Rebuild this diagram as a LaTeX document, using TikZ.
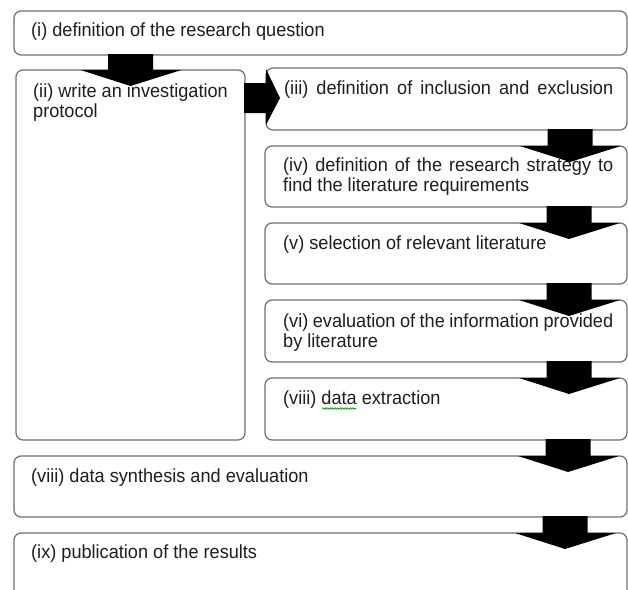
\documentclass[tikz,border=0pt]{standalone}
\usepackage{fontspec}
\setmainfont{Liberation Sans}[FakeStretch=0.955]
\usetikzlibrary{calc,decorations.pathmorphing}
\definecolor{boxgray}{HTML}{6E6E6E}
\definecolor{textgray}{HTML}{1E1E1E}
\newcommand\downblk[3]{%
  \coordinate (cx) at (#3,0);
  \coordinate (s) at (cx |- #1.south);
  \coordinate (t) at (cx |- #2.north);
  \fill[blk] ($(s)+(-22.5,-1)$) -- ($(t)+(-22.5,0)$) -- ($(t)+(-50,0)$) --
    ($(t)+(0,16)$) -- ($(t)+(51,0)$) -- ($(t)+(22.5,0)$) -- ($(s)+(22.5,-1)$) -- cycle;}
\begin{document}
\begin{tikzpicture}[x=1pt,y=-1pt,
  box/.style={draw=boxgray, line width=1.2pt, rounded corners=7pt, fill=white,
    anchor=north west, inner sep=0pt, outer sep=0pt},
  txt/.style={anchor=base west, inner sep=0pt, font=\fontsize{19}{20}\selectfont, text=textgray},
  blk/.style={fill=black, draw=none}]
\useasboundingbox (0,0) rectangle (628,589);
\clip (0,0) rectangle (628,589);
% boxes
\node[box, minimum width=613pt, minimum height=44pt] (bi) at (14,11) {};
\node[box, minimum width=229pt, minimum height=370pt] (bii) at (16,70) {};
\node[box, minimum width=361pt, minimum height=62pt] (biii) at (266,68) {};
\node[box, minimum width=362pt, minimum height=61pt] (biv) at (265,146) {};
\node[box, minimum width=362pt, minimum height=61pt] (bv) at (265,223) {};
\node[box, minimum width=362pt, minimum height=62pt] (bvi) at (265,300) {};
\node[box, minimum width=362pt, minimum height=62pt] (bvii) at (265,378) {};
\node[box, minimum width=613pt, minimum height=61pt] (bviii) at (14,456) {};
\node[box, minimum width=613pt, minimum height=80pt] (bix) at (14,533) {};
% texts
\node[txt] (ti) at (31,36) {(i) definition of the research question};
\node[txt] (tiia) at (33,97) {(ii) write an investigation};
\node[txt] (tiib) at (33,117) {protocol};
\node[txt] (tiii) at (284,94.5) {\makebox[329pt][s]{(iii) definition of inclusion and exclusion}};
\node[txt] (tiva) at (283,171.5) {\makebox[330pt][s]{(iv) definition of the research strategy to}};
\node[txt] (tivb) at (283,191.5) {find the literature requirements};
\node[txt] (tv) at (283,249) {(v) selection of relevant literature};
\node[txt] (tvia) at (283,327) {\makebox[330pt][s]{(vi) evaluation of the information provided}};
\node[txt] (tvib) at (283,347) {by literature};
\node[txt] (tvii) at (283,404) {(viii) data extraction};
\node[txt] (tviii) at (31,482) {(viii) data synthesis and evaluation};
\node[txt] (tix) at (31,558) {(ix) publication of the results};
\draw[green!55!black, line width=0.6pt, decorate,
  decoration={snake, amplitude=0.8pt, segment length=2.5pt}] (322,408.5) -- (356,408.5);
% block arrows
\downblk{bi}{bii}{130.5}
\coordinate (ry) at (0,98);
\coordinate (hs) at (bii.east |- ry);
\coordinate (ht) at (biii.west |- ry);
\fill[blk] ($(hs)+(-1,-15)$) -- ($(ht)+(0,-15)$) -- ($(ht)+(0,-29)$) -- ($(ht)+(14,0)$) --
  ($(ht)+(0,27)$) -- ($(ht)+(0,15)$) -- ($(hs)+(-1,15)$) -- cycle;
\downblk{biii}{biv}{570}
\downblk{biv}{bv}{569}
\downblk{bv}{bvi}{569}
\downblk{bvi}{bvii}{569}
\downblk{bvii}{bviii}{568}
\downblk{bviii}{bix}{565}
\end{tikzpicture}
\end{document}
